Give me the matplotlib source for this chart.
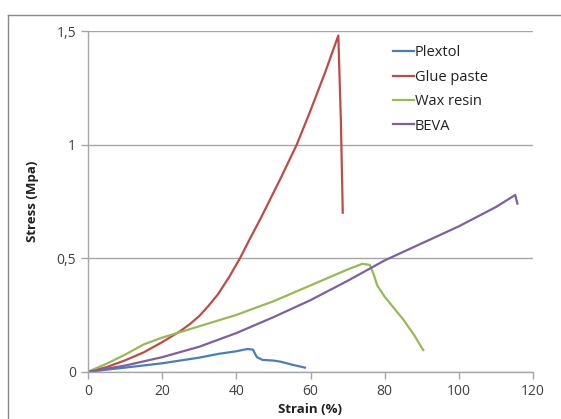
import matplotlib
matplotlib.use("Agg")
import matplotlib.pyplot as plt
from matplotlib.lines import Line2D
from matplotlib.ticker import FuncFormatter

# Curvas esfuerzo-deformación
plextol_x = [0, 10, 20, 30, 35, 40, 43, 44.5, 45.5, 47, 50, 52, 55, 58.5]
plextol_y = [0, 0.018, 0.037, 0.062, 0.078, 0.09, 0.1, 0.097, 0.065, 0.052,
             0.049, 0.044, 0.031, 0.018]

glue_x = [0, 5, 10, 15, 20, 25, 27.5, 30, 32.5, 35, 38, 41, 43.5, 46.4, 49,
          52.2, 56.3, 60, 64, 67.5, 68.2, 68.7]
glue_y = [0, 0.02, 0.05, 0.085, 0.13, 0.18, 0.21, 0.245, 0.29, 0.34, 0.415,
          0.5, 0.58, 0.67, 0.755, 0.86, 1.0, 1.15, 1.32, 1.48, 1.1, 0.70]

wax_x = [0, 5, 10, 15, 20, 25, 30, 35, 40, 45, 50, 55, 60, 65, 70, 74, 76,
         77, 78, 80, 85, 88, 90.4]
wax_y = [0, 0.035, 0.075, 0.12, 0.15, 0.175, 0.2, 0.225, 0.25, 0.28, 0.31,
         0.345, 0.38, 0.415, 0.45, 0.475, 0.47, 0.43, 0.38, 0.33, 0.23, 0.16,
         0.095]

beva_x = [0, 10, 20, 30, 40, 50, 60, 70, 80, 90, 100, 110, 115.2, 115.8]
beva_y = [0, 0.027, 0.064, 0.11, 0.17, 0.24, 0.315, 0.4, 0.49, 0.565, 0.64,
          0.725, 0.778, 0.74]

series = [
    ("Plextol", plextol_x, plextol_y, "#4A7EBB"),
    ("Glue paste", glue_x, glue_y, "#BE4B48"),
    ("Wax resin", wax_x, wax_y, "#98B954"),
    ("BEVA", beva_x, beva_y, "#7D60A0"),
]

plt.rcParams['font.family'] = ['Open Sans', 'DejaVu Sans']

fig = plt.figure(figsize=(5.61, 4.19), dpi=100)
ax = fig.add_axes([88 / 561, 47.3 / 419, 445 / 561, 340.7 / 419])

# Marco exterior del gráfico (estilo Excel)
fig.add_artist(Line2D([8 / 561, 8 / 561], [0, 1 - 15 / 419],
                      transform=fig.transFigure, color="#888888", lw=1))
fig.add_artist(Line2D([8 / 561, 1], [1 - 15 / 419, 1 - 15 / 419],
                      transform=fig.transFigure, color="#888888", lw=1))

for name, xs, ys, col in series:
    ax.plot(xs, ys, color=col, lw=1.6, label=name,
            solid_joinstyle="round")

ax.set_xlim(0, 120)
ax.set_ylim(0, 1.5)
ax.set_xticks(range(0, 121, 20))
ax.set_yticks([0, 0.5, 1, 1.5])
ax.yaxis.set_major_formatter(
    FuncFormatter(lambda v, p: ("%g" % v).replace(".", ",")))
ax.grid(axis="y", color="#a6a6a6", lw=1)
ax.set_axisbelow(True)

for s in ["top", "right"]:
    ax.spines[s].set_visible(False)
for s in ["left", "bottom"]:
    ax.spines[s].set_color("#a6a6a6")
    ax.spines[s].set_linewidth(1)

ax.tick_params(axis="both", colors="#a6a6a6", length=5, width=1,
               labelcolor="#404040", labelsize=10)
ax.tick_params(axis="x", pad=4)

ax.set_xlabel("Strain (%)", fontsize=9.5, fontweight="bold", color="#202020",
              labelpad=3)
ax.set_ylabel("Stress (Mpa)", fontsize=9.5, fontweight="bold",
              color="#202020", labelpad=13)

leg = ax.legend(loc="upper left", bbox_to_anchor=(292 / 445, 0.997),
                frameon=False, handlelength=1.4, handletextpad=0.1,
                labelspacing=0.65, fontsize=10.5)
for t in leg.get_texts():
    t.set_color("#202020")

fig.savefig("out.png", dpi=100)
